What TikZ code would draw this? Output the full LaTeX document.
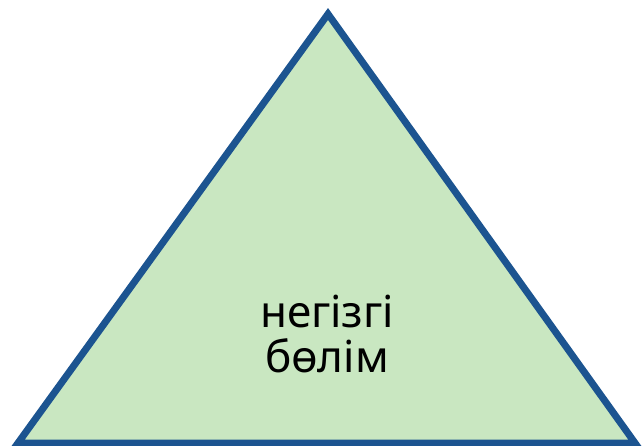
\documentclass[tikz,border=0pt]{standalone}
\usepackage{fontspec}
\setmainfont{Noto Sans}
\definecolor{edgeblue}{HTML}{1C5490}
\definecolor{fillgreen}{HTML}{C9E7C1}
\tikzset{tri/.style={draw=edgeblue, fill=fillgreen, line width=7pt, line join=miter}}
\begin{document}
\begin{tikzpicture}[x=1pt,y=-1pt]
\useasboundingbox (0,0) rectangle (644,446);
\begin{scope}
\clip (0,0) rectangle (644,446);
\draw[tri] (328,14) -- (635,443) -- (18,443) -- cycle;
\end{scope}
\node[align=center, anchor=base, font=\fontsize{44}{45}\selectfont, text=black] (lbl) at (327,372) {негізгі\\бөлім};
\end{tikzpicture}
\end{document}
